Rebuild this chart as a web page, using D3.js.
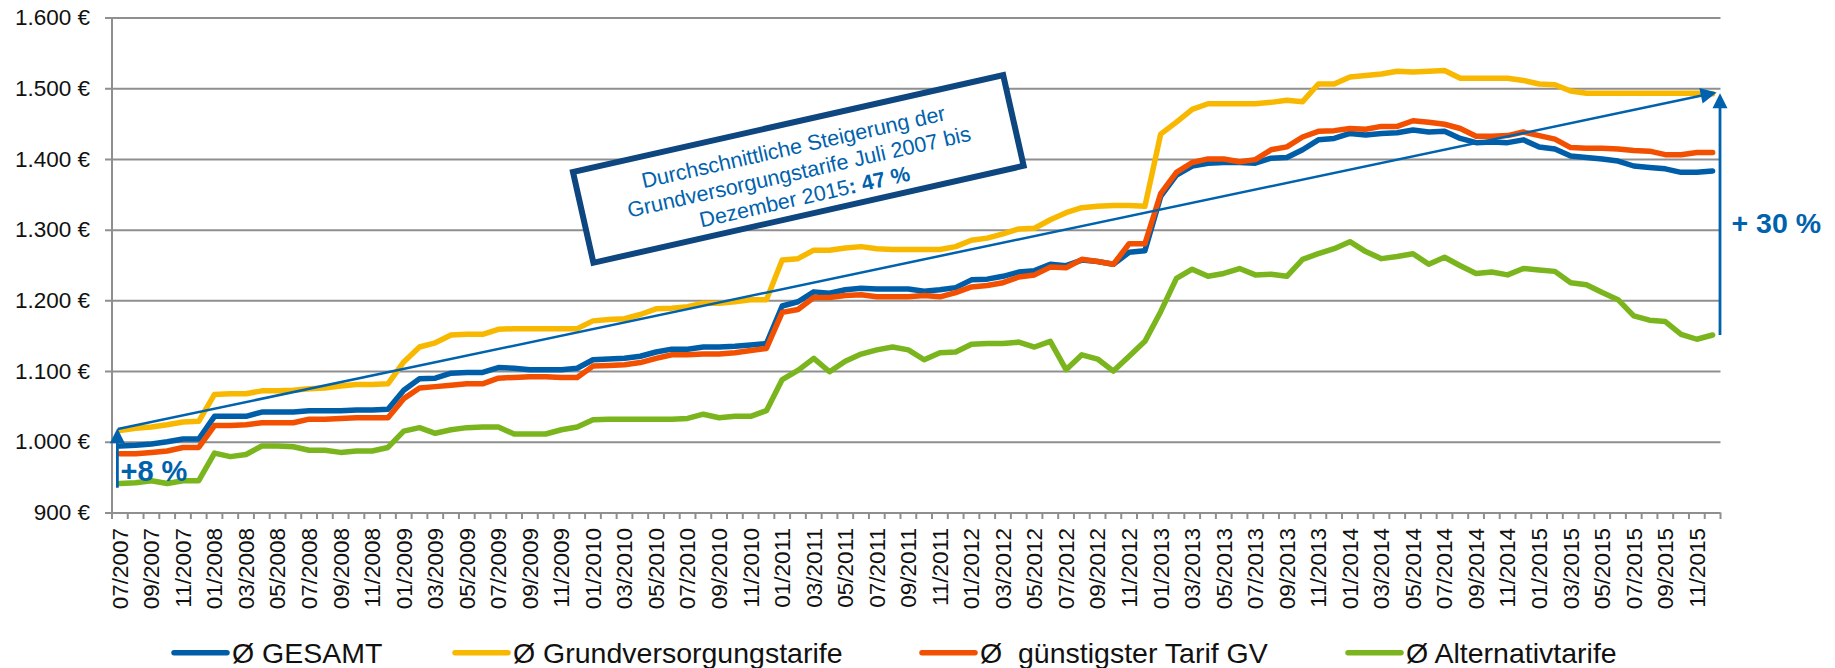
<!DOCTYPE html>
<html>
<head>
<meta charset="utf-8">
<script src="https://cdn.jsdelivr.net/npm/d3@7"></script>
<style>
  body { margin: 0; background: #fff; }
  svg { display: block; font-family: "Liberation Sans", Arial, sans-serif; }
</style>
</head>
<body>
<div id="chart"></div>
<script>
// monthly categories 07/2007 .. 12/2015
const months = d3.timeMonths(new Date(2007, 6, 1), new Date(2016, 0, 1)).map(d3.timeFormat("%m/%Y"));

const yTicks = [900, 1000, 1100, 1200, 1300, 1400, 1500, 1600];

const gesamt = [994, 995, 997, 1000, 1004, 1004, 1036, 1036, 1036, 1042, 1042, 1042, 1044, 1044, 1044, 1045, 1045, 1046,
  1073, 1089, 1090, 1097, 1098, 1098, 1105, 1104, 1102, 1102, 1102, 1104,
  1116, 1117, 1118, 1121, 1127, 1131, 1131, 1134, 1134, 1135, 1137, 1139,
  1192, 1198, 1212, 1210, 1215, 1217, 1216, 1216, 1216, 1213, 1215, 1218,
  1229, 1230, 1234, 1240, 1242, 1251, 1249, 1257, 1255, 1251, 1268, 1270,
  1347, 1377, 1390, 1394, 1395, 1395, 1394, 1401, 1402, 1413, 1427, 1429,
  1436, 1434, 1436, 1437, 1441, 1438, 1439, 1429, 1423, 1424, 1423, 1427,
  1417, 1414, 1404, 1402, 1400, 1397, 1390, 1388, 1386, 1381, 1381, 1383];

const grundversorgung = [1016, 1019, 1021, 1024, 1028, 1029, 1067, 1068, 1068, 1072, 1072, 1073, 1075, 1076, 1079, 1081, 1081, 1082,
  1113, 1134, 1140, 1151, 1152, 1152, 1159, 1160, 1160, 1160, 1160, 1160,
  1171, 1173, 1174, 1180, 1188, 1189, 1191, 1196, 1196, 1198, 1201, 1201,
  1257, 1259, 1271, 1271, 1274, 1276, 1273, 1272, 1272, 1272, 1272, 1276,
  1285, 1288, 1294, 1301, 1302, 1314, 1324, 1331, 1333, 1334, 1334, 1333,
  1435, 1452, 1470, 1478, 1478, 1478, 1478, 1480, 1483, 1481, 1506, 1506,
  1516, 1518, 1520, 1524, 1523, 1524, 1525, 1514, 1514, 1514, 1514, 1511,
  1506, 1505, 1496, 1493, 1493, 1493, 1493, 1493, 1493, 1493, 1493, 1492];

const guenstigster = [983, 983, 985, 987, 992, 992, 1023, 1023, 1024, 1027, 1027, 1027, 1032, 1032, 1033, 1034, 1034, 1034,
  1061, 1076, 1078, 1080, 1082, 1082, 1090, 1091, 1092, 1092, 1091, 1091,
  1107, 1108, 1109, 1112, 1118, 1123, 1123, 1124, 1124, 1126, 1129, 1132,
  1183, 1187, 1204, 1204, 1207, 1208, 1205, 1205, 1205, 1207, 1205, 1211,
  1219, 1221, 1225, 1233, 1236, 1247, 1246, 1258, 1255, 1251, 1280, 1280,
  1351, 1381, 1395, 1400, 1400, 1396, 1399, 1413, 1417, 1431, 1439, 1440,
  1443, 1442, 1446, 1446, 1454, 1452, 1449, 1443, 1432, 1432, 1433, 1438,
  1433, 1428, 1416, 1415, 1415, 1414, 1412, 1411, 1406, 1406, 1409, 1409];

const alternativ = [941, 942, 945, 941, 945, 945, 984, 979, 982, 994, 994, 993, 988, 988, 985, 987, 987, 992,
  1015, 1020, 1012, 1017, 1020, 1021, 1021, 1011, 1011, 1011, 1017, 1021,
  1031, 1032, 1032, 1032, 1032, 1032, 1033, 1039, 1034, 1036, 1036, 1044,
  1088, 1101, 1118, 1099, 1114, 1124, 1130, 1134, 1130, 1116, 1126, 1127,
  1138, 1139, 1139, 1141, 1134, 1142, 1102, 1123, 1117, 1100, 1121, 1142,
  1184, 1231, 1244, 1234, 1238, 1245, 1236, 1237, 1234, 1258, 1266, 1273,
  1283, 1269, 1259, 1262, 1266, 1251, 1261, 1249, 1238, 1240, 1236, 1245,
  1243, 1241, 1225, 1222, 1211, 1201, 1178, 1172, 1170, 1152, 1145, 1151];

const seriesNames = ["Ø GESAMT", "Ø Grundversorgungstarife", "Ø  günstigster Tarif GV", "Ø Alternativtarife"];
const seriesColors = ["#005ea8", "#f9b800", "#f24f00", "#7ab51e"];
const seriesValues = [gesamt, grundversorgung, guenstigster, alternativ];

// annotation values
const trendStart = 1018, trendEnd = 1494;
const arrow8 = [935, 1019];
const arrow30 = [1151, 1493];
const boxLines = ["Durchschnittliche Steigerung der", "Grundversorgungstarife Juli 2007 bis", "Dezember 2015"];

const W = 1835, H = 668;
const plotLeft = 112, plotRight = 1720.5, plotTop = 17.5, plotBottom = 512.5;
const blue = "#0062ad";

const svg = d3.select("#chart").append("svg").attr("width", W).attr("height", H);

const x = d3.scaleBand().domain(months).range([plotLeft, plotRight]);
const cx = m => x(m) + x.bandwidth() / 2;
const y = d3.scaleLinear().domain([900, 1600]).range([plotBottom, plotTop]);

const de = d3.formatLocale({decimal: ",", thousands: ".", grouping: [3], currency: ["", " €"]});
const fmt = de.format("$,.0f");

// y axis + gridlines
const yAxis = svg.append("g")
    .attr("transform", "translate(" + plotLeft + ",0)")
    .call(d3.axisLeft(y).tickValues(yTicks).tickFormat(fmt)
      .tickSizeInner(-(plotRight - plotLeft)).tickSizeOuter(0).tickPadding(22));
yAxis.select(".domain").remove();
yAxis.selectAll(".tick line").attr("x1", -7).attr("stroke", "#8f8f8f").attr("stroke-width", 2);
yAxis.selectAll(".tick text").attr("font-size", 22.5).attr("fill", "#111")
    .attr("font-family", "Liberation Sans, Arial, sans-serif");

svg.append("line")
    .attr("x1", plotLeft).attr("x2", plotLeft).attr("y1", plotTop).attr("y2", plotBottom + 6.5)
    .attr("stroke", "#8f8f8f").attr("stroke-width", 2);

// x ticks at category boundaries
const bounds = months.map(m => x(m)).concat([plotRight]);
svg.append("g").selectAll("line").data(bounds.slice(1)).join("line")
    .attr("x1", d => d).attr("x2", d => d).attr("y1", plotBottom).attr("y2", plotBottom + 6.5)
    .attr("stroke", "#8f8f8f").attr("stroke-width", 2);

// x labels every two months
svg.append("g").selectAll("text").data(months.filter((m, i) => i % 2 === 0)).join("text")
    .attr("transform", m => "translate(" + cx(m) + "," + (plotBottom + 15.5) + ") rotate(-90)")
    .attr("text-anchor", "end").attr("dy", "0.35em")
    .attr("font-size", 22.5).attr("fill", "#111")
    .text(m => m);

// series lines
const line = d3.line().x((d, i) => cx(months[i])).y(d => y(d));
svg.append("g").selectAll("path").data(seriesValues).join("path")
    .attr("d", d => line(d))
    .attr("fill", "none")
    .attr("stroke", (d, i) => seriesColors[i])
    .attr("stroke-width", 5.5)
    .attr("stroke-linejoin", "round")
    .attr("stroke-linecap", "round");

// arrow helper
function arrow(x1, y1, x2, y2, w, head) {
  const dx = x2 - x1, dy = y2 - y1, len = Math.hypot(dx, dy);
  const ux = dx / len, uy = dy / len;
  const bx = x2 - ux * head, by = y2 - uy * head;
  svg.append("line")
      .attr("x1", x1).attr("y1", y1).attr("x2", bx + ux).attr("y2", by + uy)
      .attr("stroke", blue).attr("stroke-width", w);
  svg.append("path")
      .attr("d", "M" + x2 + "," + y2 +
        "L" + (bx - uy * head / 2) + "," + (by + ux * head / 2) +
        "L" + (bx + uy * head / 2) + "," + (by - ux * head / 2) + "Z")
      .attr("fill", blue);
}

// trend arrow
arrow(cx(months[0]) - 2, y(trendStart), cx(months[months.length - 1]) + 4, y(trendEnd), 2.5, 16);
// +8 % arrow
arrow(cx(months[0]) - 2.5, y(arrow8[0]), cx(months[0]) - 2.5, y(arrow8[1]), 2.8, 15);
// +30 % arrow
arrow(plotRight - 0.5, y(arrow30[0]), plotRight - 0.5, y(arrow30[1]), 2.8, 15);

svg.append("text").attr("x", 120.5).attr("y", 480.5)
    .attr("font-size", 29).attr("font-weight", "bold").attr("fill", blue).text("+8 %");
svg.append("text").attr("x", 1731.5).attr("y", 232.5)
    .attr("font-size", 28.5).attr("font-weight", "bold").attr("fill", blue).text("+ 30 %");

// rotated annotation box
const box = svg.append("g").attr("transform", "translate(798.3,168.9) rotate(-12.7)");
box.append("rect")
    .attr("x", -220.5).attr("y", -46.5).attr("width", 441).attr("height", 93)
    .attr("fill", "#fff").attr("stroke", "#0e467f").attr("stroke-width", 6);
const bt = box.selectAll("text").data(boxLines).join("text")
    .attr("x", 0).attr("y", (d, i) => -22.6 + i * 25.5)
    .attr("dy", "0.35em").attr("text-anchor", "middle")
    .attr("font-size", 21.5).attr("fill", blue)
    .text(d => d);
bt.filter((d, i) => i === 2).append("tspan").attr("font-weight", "bold").text(": 47 %");

// legend
const legendX = [174, 455, 922, 1348];
const legendY = 652.7;
const lg = svg.append("g").selectAll("g").data(seriesNames).join("g")
    .attr("transform", (d, i) => "translate(" + legendX[i] + "," + legendY + ")");
lg.append("line").attr("x1", 0).attr("x2", 53)
    .attr("stroke", (d, i) => seriesColors[i]).attr("stroke-width", 5.5).attr("stroke-linecap", "round");
lg.append("text").attr("x", 58).attr("dy", "0.35em")
    .attr("font-size", 28.5).attr("fill", "#111").style("white-space", "pre")
    .text(d => d);
</script>
</body>
</html>
